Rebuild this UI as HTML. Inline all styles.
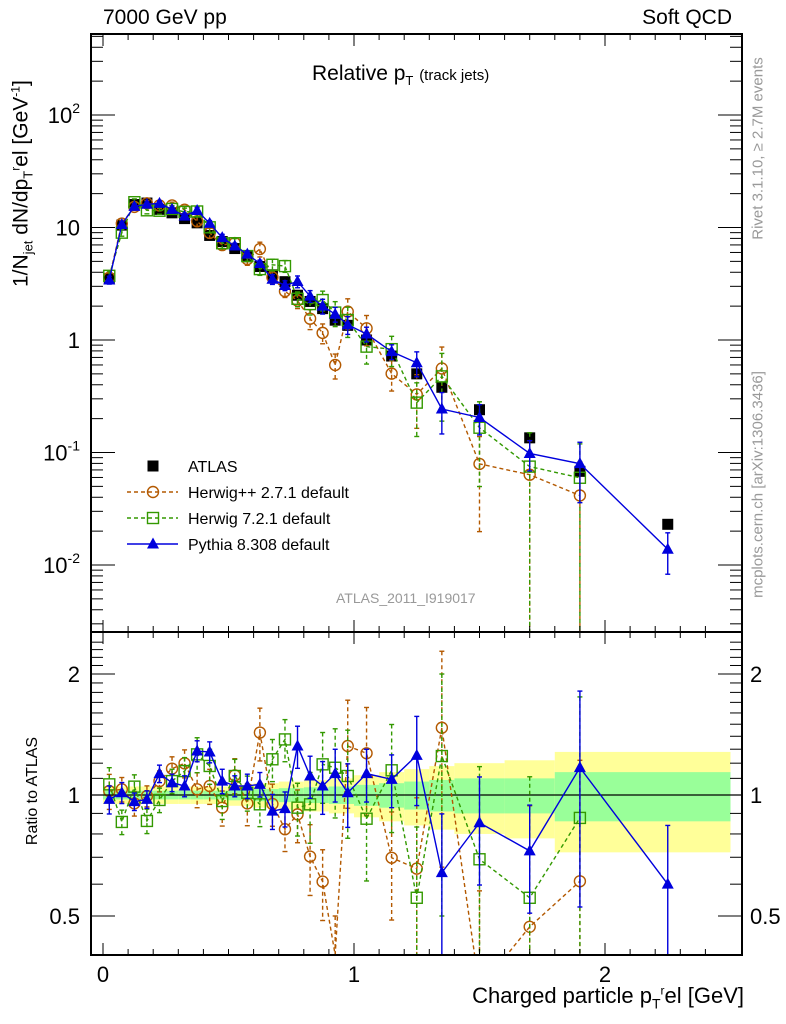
<!DOCTYPE html>
<html><head><meta charset="utf-8"><style>
html,body{margin:0;background:#fff;overflow:hidden;width:786px;height:1024px;}
svg{display:block;font-family:"Liberation Sans",sans-serif;}
</style></head><body>
<svg id="c" width="786" height="1024" viewBox="0 0 786 1024"></svg>
<script>
const xs=[0.025,0.075,0.125,0.175,0.225,0.275,0.325,0.375,0.425,0.475,0.525,0.575,0.625,0.675,0.725,0.775,0.825,0.875,0.925,0.975,1.05,1.15,1.25,1.35,1.5,1.7,1.9,2.25];
const binEdges=[0,0.05,0.1,0.15,0.2,0.25,0.3,0.35,0.4,0.45,0.5,0.55,0.6,0.65,0.7,0.75,0.8,0.85,0.9,0.95,1.0,1.1,1.2,1.3,1.4,1.6,1.8,2.0,2.5];
const atlas=[3.5,10.5,16,16.5,14.5,13.5,12,11,8.5,7.5,6.5,5.5,4.5,3.8,3.3,2.5,2.2,1.9,1.5,1.35,1.0,0.72,0.5,0.38,0.24,0.135,0.068,0.023];
const totErr=[0.05,0.05,0.05,0.05,0.05,0.05,0.05,0.05,0.05,0.05,0.06,0.06,0.07,0.07,0.08,0.08,0.09,0.09,0.1,0.1,0.12,0.14,0.16,0.18,0.2,0.22,0.28,0.28];
const statErr=[0.025,0.025,0.025,0.025,0.025,0.025,0.025,0.025,0.025,0.025,0.03,0.03,0.035,0.035,0.04,0.04,0.045,0.045,0.05,0.05,0.06,0.07,0.08,0.09,0.1,0.1,0.14,0.14];
const pyR=[0.975,1.013,0.963,0.975,1.13,1.073,1.053,1.287,1.279,1.083,1.053,1.053,1.063,0.912,0.925,1.324,1.115,1.053,1.13,1.013,1.13,1.094,1.255,0.641,0.853,0.726,1.17,0.6];
const pyE=[0.08,0.06,0.05,0.05,0.05,0.05,0.06,0.06,0.06,0.07,0.06,0.07,0.07,0.1,0.1,0.12,0.12,0.15,0.15,0.18,0.15,0.15,0.25,0.4,0.3,0.3,0.55,0.4];
const hwR=[1.023,1.033,0.953,0.994,1.083,1.163,1.199,1.033,1.053,0.93,1.119,0.953,1.43,0.95,0.822,0.895,0.703,0.609,0.4,1.324,1.27,0.698,0.656,1.47,0.33,0.47,0.61,null];
const hwE=[0.1,0.07,0.07,0.06,0.06,0.07,0.08,0.1,0.1,0.1,0.1,0.12,0.15,0.12,0.12,0.15,0.2,0.2,0.25,0.3,0.3,0.3,0.5,0.55,0.75,1.0,1.0,null];
const h7R=[1.063,0.857,1.049,0.862,0.972,1.083,1.147,1.262,1.181,0.966,1.115,1.013,0.948,1.227,1.375,0.93,0.948,1.192,1.169,1.115,0.873,1.152,0.555,1.25,0.692,0.555,0.877,null];
const h7E=[0.1,0.07,0.07,0.07,0.07,0.07,0.08,0.1,0.1,0.1,0.1,0.1,0.12,0.12,0.12,0.15,0.2,0.2,0.25,0.3,0.3,0.3,0.5,0.6,0.7,1.0,1.0,null];
const xTicks=[0,1,2];
const yMainTicks=[0.01,0.1,1,10,100];
const yMainLabels=["10^-2","10^-1","1","10","10^2"];
const yRatTicks=[0.5,1,2];

const NS="http://www.w3.org/2000/svg";
const svg=document.getElementById('c');
const L=91,R=742,T=34,MB=632,RB=955;
const X=v=>103+251*v;
const rawM=v=>340-112.5*Math.log10(v);
const rawR=v=>795-121*Math.log2(v);
const clampY=y=>Math.min(1020,Math.max(4,y));
const YM=v=>clampY(rawM(v));
const YR=v=>clampY(rawR(v));
function el(t,a,p){const e=document.createElementNS(NS,t);for(const k in a)e.setAttribute(k,a[k]);(p||svg).appendChild(e);return e;}
const clipM=el('clipPath',{id:'cm'});el('rect',{x:L,y:T,width:R-L,height:MB-T},clipM);
const clipR=el('clipPath',{id:'cr'});el('rect',{x:L,y:MB,width:R-L,height:RB-MB},clipR);
const gM=el('g',{'clip-path':'url(#cm)'});

const gR=el('g',{'clip-path':'url(#cr)'});


for(let i=0;i<xs.length;i++){
  const x1=X(binEdges[i]),x2=X(binEdges[i+1]);
  const y=el('rect',{x:x1,y:YR(1+totErr[i]),width:x2-x1,height:YR(1-totErr[i])-YR(1+totErr[i]),fill:'#ffff99'},gR);
  
  const g=el('rect',{x:x1,y:YR(1+statErr[i]),width:x2-x1,height:YR(1-statErr[i])-YR(1+statErr[i]),fill:'#99ff99'},gR);
  
}
const one=el('line',{x1:L,x2:R,y1:YR(1),y2:YR(1),stroke:'#000','stroke-width':1.2},gR);


function series(ratio,err,color,dash,marker,name){
  [[gM,true],[gR,false]].forEach(([g,main])=>{
    const pts=[];
    const gg=el('g',{},g);
    
    
    const lo0=main?T:MB, hi0=main?MB:RB;
    for(let i=0;i<xs.length;i++){
      if(ratio[i]==null)continue;
      const v=main?ratio[i]*atlas[i]:ratio[i];
      const Y=main?YM:YR;
      const y=Y(v),x=X(xs[i]);
      const lo=Y(Math.max(v*(1-err[i]),1e-4)),hi=Y(v*(1+err[i]));
      el('line',{x1:x,x2:x,y1:hi,y2:lo,stroke:color,'stroke-width':1.4,'stroke-dasharray':dash},gg);
      el('line',{x1:x-2.5,x2:x+2.5,y1:hi,y2:hi,stroke:color,'stroke-width':1.4},gg);
      el('line',{x1:x-2.5,x2:x+2.5,y1:lo,y2:lo,stroke:color,'stroke-width':1.4},gg);
      pts.push([x,y,y>lo0+3&&y<hi0-3]);
    }
    el('polyline',{points:pts.map(p=>p[0]+','+p[1]).join(' '),fill:'none',stroke:color,'stroke-width':1.4,'stroke-dasharray':dash},gg);
    pts.forEach(([x,y,vis])=>{if(vis)drawMarker(gg,marker,x,y,color);});
  });
}
function drawMarker(g,m,x,y,c){
  if(m==='circle')el('circle',{cx:x,cy:y,r:5.5,fill:'none',stroke:c,'stroke-width':1.4},g);
  else if(m==='square')el('rect',{x:x-5.5,y:y-5.5,width:11,height:11,fill:'none',stroke:c,'stroke-width':1.4},g);
  else if(m==='tri')el('polygon',{points:`${x},${y-6.5} ${x-6},${y+4.5} ${x+6},${y+4.5}`,fill:c},g);
  else el('rect',{x:x-5.5,y:y-5.5,width:11,height:11,fill:'#000'},g);
}
const ga=el('g',{},gM);

for(let i=0;i<xs.length;i++)drawMarker(ga,'sq',X(xs[i]),YM(atlas[i]),'#000');
series(hwR,hwE,'#b35900','4,3','circle','herwigpp-series');
series(h7R,h7E,'#339900','4,3','square','herwig7-series');
series(pyR,pyE,'#0000dd','','tri','pythia-series');

[[T,MB],[MB,RB]].forEach(([a,b],k)=>{
  const f=el('rect',{x:L,y:a,width:R-L,height:b-a,fill:'none',stroke:'#000','stroke-width':2});
  
});
for(let v=0;v<=2.5;v+=0.1){
  const x=X(v);const maj=Math.abs(v-Math.round(v))<1e-6;const len=maj?12:6;
  [[T,1],[MB,1],[MB,-1],[RB,-1]].forEach(([y,d])=>el('line',{x1:x,x2:x,y1:y,y2:y+d*len,stroke:'#000','stroke-width':1}));
}
xTicks.forEach(v=>{const t=el('text',{x:X(v),y:982,'font-size':22,'text-anchor':'middle'});t.textContent=v;
});
for(let d=-3;d<=2;d++){for(let m=1;m<10;m++){const v=m*Math.pow(10,d);const y=rawM(v);if(y<T||y>MB)continue;const len=m===1?24:12;
el('line',{x1:L,x2:L+len,y1:y,y2:y,stroke:'#000'});el('line',{x1:R,x2:R-len,y1:y,y2:y,stroke:'#000'});}}
yMainTicks.forEach((v,i)=>{const s=yMainLabels[i];const t=el('text',{x:80,y:YM(v)+8,'font-size':22,'text-anchor':'end'});

if(s.includes('^')){const [b,e]=s.split('^');t.textContent=b;const ts=el('tspan',{'font-size':14,dy:-10},t);ts.textContent=e;}else t.textContent=s;});
for(let v=0.4;v<=2.5;v+=0.1){const y=rawR(v);if(y<MB||y>RB)continue;const maj=[0.5,1,2].some(q=>Math.abs(q-v)<1e-6);const len=maj?24:12;
el('line',{x1:L,x2:L+len,y1:y,y2:y,stroke:'#000'});el('line',{x1:R,x2:R-len,y1:y,y2:y,stroke:'#000'});}
yRatTicks.forEach(v=>{[[80,'end'],[750,'start']].forEach(([x,a])=>{const t=el('text',{x:x,y:YR(v)+8,'font-size':22,'text-anchor':a});t.textContent=v;
});});

const lg=el('g',{});
[['ATLAS','sq','#000',''],['Herwig++ 2.7.1 default','circle','#b35900','4,3'],['Herwig 7.2.1 default','square','#339900','4,3'],['Pythia 8.308 default','tri','#0000dd','']].forEach((e,i)=>{
  const y=466+26*i;const gi=el('g',{},lg);
  
  if(i>0)el('line',{x1:127,x2:178,y1:y,y2:y,stroke:e[2],'stroke-width':1.4,'stroke-dasharray':e[3]},gi);
  drawMarker(gi,e[1],153,y,e[2]);
  const t=el('text',{x:188,y:y+6,'font-size':16},gi);t.textContent=e[0];
});
</script>
<div style="position:absolute;left:0;top:0;width:786px;height:1024px;overflow:hidden;font-family:'Liberation Sans',sans-serif;pointer-events:none">
<div style="position:absolute;left:103px;top:6px;font-size:21px">7000 GeV pp</div>
<div style="position:absolute;right:54px;top:6px;font-size:21px">Soft QCD</div>
<div style="position:absolute;left:312px;top:62px;font-size:21px">Relative p<sub style="font-size:13px">T</sub> <span style="font-size:15px">(track jets)</span></div>
<div style="position:absolute;left:336px;top:590px;font-size:14px;color:#999">ATLAS_2011_I919017</div>
<div style="position:absolute;right:42px;top:983px;font-size:22px;line-height:26px">Charged particle p<sub style="font-size:14px;line-height:0">T</sub><sup style="font-size:12px;line-height:0">r</sup>el [GeV]</div>
<div style="position:absolute;left:-168px;top:170px;width:380px;transform:rotate(-90deg);font-size:21px;text-align:center;white-space:nowrap">1/N<sub style="font-size:13px">jet</sub> dN/dp<sub style="font-size:13px">T</sub><sup style="font-size:12px">r</sup>el [GeV<sup style="font-size:12px">-1</sup>]</div>
<div style="position:absolute;left:-42px;top:782px;width:150px;transform:rotate(-90deg);font-size:16px;text-align:center;white-space:nowrap">Ratio to ATLAS</div>
<div style="position:absolute;left:658px;top:140px;width:200px;transform:rotate(-90deg);font-size:15px;color:#999;text-align:center;white-space:nowrap">Rivet 3.1.10, ≥ 2.7M events</div>
<div style="position:absolute;left:608px;top:476px;width:300px;transform:rotate(-90deg);font-size:15px;color:#999;text-align:center;white-space:nowrap">mcplots.cern.ch [arXiv:1306.3436]</div>
</div>
</body></html>
